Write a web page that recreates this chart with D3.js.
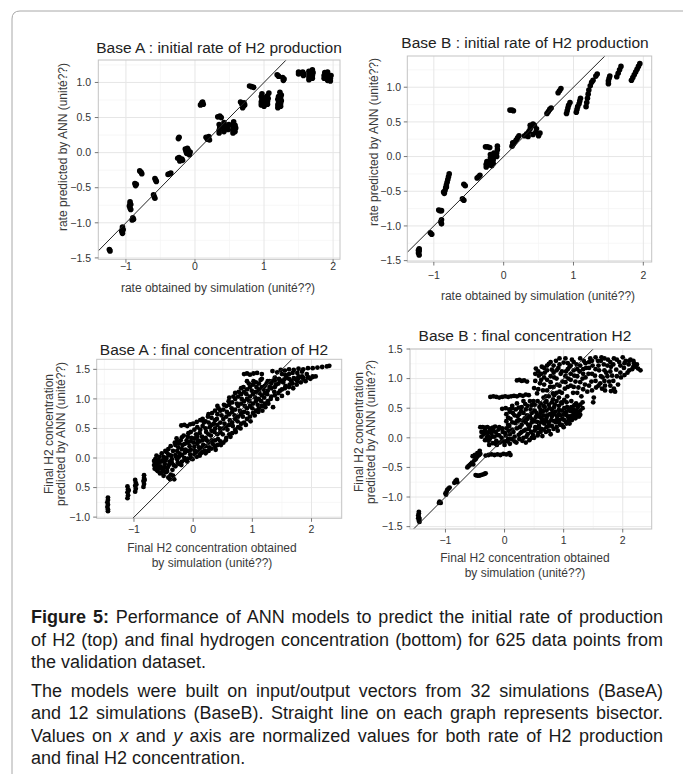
<!DOCTYPE html>
<html>
<head>
<meta charset="utf-8">
<script src="https://cdnjs.cloudflare.com/ajax/libs/d3/7.8.5/d3.min.js"></script>
<style>
  body { margin: 0; background: #fff; }
  svg { display: block; }
  text { font-family: "Liberation Sans", Arial, Helvetica, sans-serif; }
</style>
</head>
<body>
<svg id="fig" width="683" height="774"></svg>
<script>
/******************* Data *******************************/
var xTicks = [-1, 0, 1, 2];
var xTickLabels = ["\u22121", "0", "1", "2"];
var yTicksRate = [-1.5, -1, -0.5, 0, 0.5, 1];
var yTickLabelsRate = ["\u22121.5", "\u22121.0", "\u22120.5", "0.0", "0.5", "1.0"];
var yTicksConcA = [-1, -0.5, 0, 0.5, 1, 1.5];
var yTickLabelsConcA = ["\u22121.0", "0.5", "0.0", "0.5", "1.0", "1.5"];
var yTicksConcB = [-1.5, -1, -0.5, 0, 0.5, 1, 1.5];
var yTickLabelsConcB = ["\u22121.5", "\u22121.0", "\u22120.5", "0.0", "0.5", "1.0", "1.5"];

// Base A, initial rate : [simulation, ANN]
var rateA = [
  [-1.24,-1.38],[-1.23,-1.40],
  [-1.05,-1.06],[-1.05,-1.09],[-1.06,-1.12],[-1.05,-1.15],[-1.04,-1.10],
  [-0.90,-0.93],[-0.91,-0.96],[-0.89,-0.95],
  [-0.94,-0.70],[-0.94,-0.73],[-0.95,-0.76],[-0.94,-0.79],[-0.93,-0.81],[-0.93,-0.74],
  [-0.87,-0.44],[-0.85,-0.45],[-0.86,-0.47],
  [-0.80,-0.26],[-0.78,-0.28],[-0.77,-0.30],
  [-0.60,-0.60],[-0.59,-0.63],[-0.58,-0.65],
  [-0.58,-0.37],[-0.57,-0.39],[-0.56,-0.41],
  [-0.39,-0.31],[-0.37,-0.30],[-0.35,-0.29],
  [-0.24,0.20],[-0.23,0.22],
  [-0.25,-0.08],[-0.23,-0.07],[-0.21,-0.10],[-0.19,-0.09],[-0.18,-0.11],[-0.22,-0.12],
  [-0.14,0.05],[-0.13,0.02],[-0.12,-0.01],[-0.10,0.04],[-0.09,0.00],[-0.08,-0.03],[-0.11,0.06],[-0.07,0.01],
  [0.08,0.68],[0.10,0.71],[0.11,0.72],[0.12,0.69],
  [0.16,0.22],[0.18,0.19],[0.20,0.23],[0.21,0.18],[0.19,0.21],
  [0.33,0.51],[0.36,0.52],[0.38,0.50],
  [0.35,0.28],[0.35,0.32],[0.36,0.36],[0.35,0.40],[0.42,0.30],[0.42,0.34],[0.43,0.38],[0.42,0.43],
  [0.48,0.33],[0.48,0.37],[0.49,0.40],[0.55,0.28],[0.55,0.32],[0.56,0.36],[0.55,0.40],[0.56,0.44],
  [0.58,0.30],[0.59,0.35],[0.58,0.39],
  [0.66,0.72],[0.68,0.69],[0.70,0.66],[0.71,0.71],[0.69,0.64],[0.72,0.68],
  [0.79,0.95],[0.82,0.94],[0.85,0.93],
  [0.96,0.68],[0.96,0.72],[0.97,0.76],[0.96,0.80],[0.97,0.84],[1.00,0.66],[1.01,0.70],[1.00,0.74],
  [1.01,0.78],[1.05,0.69],[1.05,0.73],[1.06,0.77],[1.05,0.81],[1.07,0.85],
  [1.20,0.64],[1.20,0.68],[1.21,0.72],[1.20,0.76],[1.21,0.80],[1.24,0.66],[1.24,0.70],[1.25,0.74],
  [1.24,0.78],[1.25,0.82],[1.23,0.86],
  [1.19,1.11],[1.21,1.09],[1.27,1.07],[1.29,1.05],[1.28,1.03],
  [1.50,1.15],[1.50,1.12],[1.56,1.15],[1.58,1.12],[1.57,1.10],
  [1.65,1.04],[1.65,1.08],[1.66,1.12],[1.65,1.16],[1.70,1.06],[1.70,1.10],[1.71,1.14],[1.70,1.18],
  [1.87,1.06],[1.87,1.10],[1.88,1.14],[1.92,1.03],[1.92,1.07],[1.93,1.11],[1.92,1.15],
  [1.96,1.02],[1.96,1.06],[1.97,1.10]
];

// Base B, initial rate
var rateB = [
  [-1.21,-1.33],[-1.21,-1.36],[-1.22,-1.39],[-1.21,-1.42],[-1.22,-1.35],
  [-1.05,-1.10],[-1.03,-1.12],
  [-0.89,-0.91],[-0.90,-0.94],[-0.89,-0.97],
  [-0.93,-0.77],[-0.91,-0.78],[-0.89,-0.78],
  [-0.85,-0.53],[-0.84,-0.49],[-0.83,-0.45],[-0.82,-0.41],[-0.81,-0.37],[-0.80,-0.33],
  [-0.79,-0.29],[-0.78,-0.25],[-0.86,-0.51],[-0.82,-0.44],
  [-0.57,-0.40],[-0.55,-0.42],
  [-0.59,-0.61],[-0.57,-0.63],
  [-0.38,-0.31],[-0.36,-0.29],[-0.34,-0.27],
  [-0.26,0.14],[-0.23,0.14],[-0.20,0.13],
  [-0.25,-0.15],[-0.25,-0.11],[-0.24,-0.07],[-0.20,-0.12],[-0.20,-0.07],[-0.19,-0.02],[-0.19,0.03],
  [-0.15,-0.10],[-0.15,-0.05],[-0.14,0.00],[-0.14,0.05],[-0.10,0.00],[-0.10,0.05],[-0.09,0.10],
  [-0.09,0.15],[-0.17,-0.13],
  [0.09,0.67],[0.12,0.67],[0.14,0.66],
  [0.12,0.15],[0.14,0.18],[0.16,0.21],[0.18,0.24],[0.20,0.27],[0.22,0.30],[0.13,0.20],
  [0.30,0.30],[0.33,0.33],[0.36,0.36],[0.38,0.40],[0.40,0.44],[0.42,0.47],[0.44,0.45],[0.35,0.29],
  [0.42,0.32],[0.46,0.35],[0.50,0.30],[0.52,0.34],[0.47,0.40],[0.38,0.45],
  [0.62,0.62],[0.64,0.65],[0.66,0.68],[0.68,0.70],
  [0.78,0.92],[0.80,0.95],[0.82,0.98],
  [0.90,0.62],[0.91,0.66],[0.92,0.70],[0.93,0.74],[0.95,0.78],
  [1.04,0.64],[1.05,0.68],[1.06,0.72],[1.08,0.76],[1.09,0.80],[1.10,0.84],
  [1.18,0.72],[1.19,0.78],[1.20,0.84],[1.21,0.90],[1.22,0.96],[1.24,1.02],[1.26,1.07],[1.28,1.10],
  [1.32,1.16],[1.34,1.19],
  [1.50,1.05],[1.50,1.09],[1.51,1.13],[1.52,1.16],
  [1.62,1.15],[1.64,1.20],[1.66,1.25],[1.68,1.30],
  [1.83,1.10],[1.85,1.14],[1.87,1.18],[1.89,1.22],[1.91,1.26],[1.93,1.30],[1.95,1.34]
];

// Base A, final concentration
var concA = [
  [-1.44,-0.67],[-1.44,-0.71],[-1.45,-0.75],[-1.44,-0.79],[-1.45,-0.83],[-1.44,-0.87],[-1.44,-0.90],
  [-1.11,-0.48],[-1.10,-0.53],[-1.11,-0.58],[-1.10,-0.63],[-1.11,-0.68],[-1.09,-0.55],
  [-0.98,-0.37],[-0.97,-0.42],[-0.98,-0.47],[-0.97,-0.52],[-0.98,-0.57],[-0.96,-0.45],
  [-0.83,-0.29],[-0.83,-0.34],[-0.84,-0.39],[-0.83,-0.44],[-0.84,-0.49],[-0.82,-0.37],
  [-0.66,-0.05],[-0.66,-0.12],[-0.65,-0.18],[-0.64,-0.02],[-0.63,-0.10],[-0.62,0.04],[-0.61,-0.15],
  [-0.60,-0.22],[-0.58,-0.08],[-0.57,0.02],[-0.56,-0.26],[-0.55,-0.14],[-0.53,0.08],[-0.52,-0.04],
  [-0.51,-0.20],[-0.50,-0.30],[-0.48,-0.10],[-0.47,0.12],[-0.46,-0.24],[-0.45,0.00],[-0.43,-0.16],
  [-0.42,-0.33],[-0.40,-0.06],[-0.38,-0.28],[-0.37,0.04],[-0.35,-0.20],[-0.33,-0.12],[-0.32,-0.36],
  [-0.64,-0.07],[-0.62,-0.20],[-0.59,-0.03],[-0.57,-0.17],[-0.54,-0.06],[-0.53,-0.24],[-0.50,0.02],
  [-0.49,-0.16],[-0.47,-0.04],[-0.44,-0.22],[-0.42,0.06],[-0.41,-0.12],[-0.39,-0.36],[-0.36,-0.08],
  [-0.34,-0.30],
  [-0.20,0.55],[-0.15,0.56],[-0.10,0.54],[-0.05,0.57],[0.00,0.58],[0.06,0.61],[0.12,0.64],
  [0.86,1.42],[0.91,1.43],[0.96,1.41],[1.02,1.43],[1.08,1.44],[1.16,1.42],
  [1.34,1.47],[1.42,1.45],[1.48,1.49],[1.55,1.48],[1.62,1.50],[1.70,1.49],[1.78,1.51],[1.86,1.50],
  [1.94,1.52],[2.02,1.52],[2.10,1.53],[2.18,1.54],[2.26,1.55],[2.30,1.56],
  [1.29,1.30],[1.38,1.31],[1.46,1.32],[1.54,1.33],[1.62,1.34],[1.70,1.35],[1.78,1.35],[1.86,1.36],
  [1.94,1.37],[2.02,1.37],[2.07,1.38],
  [-0.45,0.10],[-0.42,0.15],[-0.40,0.05],[-0.38,0.20],[-0.36,-0.02],[-0.34,0.12],[-0.31,0.26],
  [-0.29,0.02],[-0.28,0.33],[-0.26,-0.08],[-0.25,0.18],[-0.23,0.08],[-0.21,0.30],[-0.20,-0.12],
  [-0.18,0.22],[-0.16,0.38],[-0.15,0.00],[-0.13,0.14],[-0.11,0.30],[-0.10,-0.06],[-0.08,0.42],
  [-0.06,0.20],[-0.05,0.06],[-0.03,0.34],[-0.01,-0.02],[0.01,0.26],[0.03,0.12],[0.05,0.40],
  [0.06,0.02],[0.08,0.30],[0.10,0.18],
  [0.12,0.48],[0.13,0.08],[0.15,0.36],[0.17,0.22],[0.18,0.60],[0.20,0.12],[0.22,0.44],[0.23,0.30],
  [0.25,0.70],[0.27,0.18],[0.28,0.52],[0.30,0.38],[0.32,0.76],[0.33,0.24],[0.35,0.58],[0.36,0.44],
  [0.38,0.14],[0.40,0.66],
  [0.42,0.32],[0.43,0.84],[0.45,0.50],[0.47,0.22],[0.48,0.72],[0.50,0.40],[0.52,0.90],[0.53,0.58],
  [0.55,0.30],[0.57,0.78],[0.58,0.48],[0.60,0.96],[0.62,0.64],[0.63,0.36],[0.65,0.84],[0.67,0.54],
  [0.68,1.04],[0.70,0.72],
  [0.72,0.44],[0.74,0.92],[0.75,0.62],[0.77,1.12],[0.79,0.80],[0.80,0.50],[0.82,1.00],[0.84,0.70],
  [0.85,1.20],[0.87,0.88],[0.89,0.56],[0.90,1.08],[0.92,0.76],[0.94,1.26],[0.95,0.96],[0.97,0.62],
  [0.99,1.14],[1.00,0.84],
  [1.02,1.30],[1.04,0.72],[1.05,1.02],[1.07,1.20],[1.09,0.90],[1.10,0.78],[1.12,1.10],[1.14,1.32],
  [1.15,0.96],[1.17,0.80],[1.19,1.16],[1.20,1.02],[1.22,0.86],[1.24,1.26],[1.25,1.08],[1.27,0.92],
  [1.29,1.20],
  [1.31,1.00],[1.33,1.30],[1.35,0.86],[1.37,1.12],[1.40,1.24],[1.42,1.00],[1.45,1.34],[1.47,1.14],
  [1.50,1.05],[1.52,1.28],[1.55,1.18],[1.58,1.36],[1.60,1.10],[1.63,1.24],[1.66,1.30],[1.69,1.18],
  [1.72,1.34],[1.75,1.24],[1.78,1.38],[1.82,1.28],[1.86,1.34],[1.90,1.30],[1.94,1.36],[1.98,1.34],
  [2.02,1.38],
  [-0.30,-0.14],[-0.30,0.05],[-0.30,0.22],[-0.27,0.12],[-0.27,-0.02],[-0.27,0.28],[-0.24,-0.10],
  [-0.24,0.25],[-0.24,0.02],[-0.19,0.05],[-0.19,-0.06],[-0.19,0.15],[-0.19,0.35],[-0.14,0.24],
  [-0.14,-0.03],[-0.14,0.09],[-0.09,0.12],[-0.09,0.26],[-0.09,0.36],[-0.09,-0.01],[-0.04,0.14],
  [-0.04,0.28],[-0.04,0.00],[-0.04,0.44],[0.02,0.06],[0.02,0.19],[0.02,0.33],[0.02,0.48],
  [0.07,0.10],[0.07,0.24],[0.07,0.36],[0.07,0.52],[0.11,0.04],[0.11,0.14],[0.11,0.28],[0.11,0.42],
  [0.16,0.10],[0.16,0.18],[0.16,0.30],[0.16,0.54],[0.16,0.66],[0.21,0.08],[0.21,0.20],[0.21,0.34],
  [0.21,0.50],[0.21,0.62],[0.26,0.12],[0.26,0.26],[0.26,0.40],[0.26,0.60],[0.26,0.74],
  [0.31,0.16],[0.31,0.30],[0.31,0.46],[0.31,0.56],[0.31,0.68],[0.37,0.20],[0.37,0.30],[0.37,0.50],
  [0.37,0.64],[0.37,0.80],[0.41,0.22],[0.41,0.40],[0.41,0.56],[0.41,0.74],[0.41,0.88],
  [0.46,0.28],[0.46,0.44],[0.46,0.60],[0.46,0.80],[0.51,0.26],[0.51,0.50],[0.51,0.66],[0.51,0.82],
  [0.56,0.34],[0.56,0.54],[0.56,0.70],[0.56,0.88],[0.61,0.40],[0.61,0.56],[0.61,0.74],[0.61,0.90],
  [0.61,1.02],[0.66,0.42],[0.66,0.60],[0.66,0.78],[0.66,0.94],[0.71,0.48],[0.71,0.66],[0.71,0.82],
  [0.71,1.00],[0.71,1.10],[0.76,0.52],[0.76,0.70],[0.76,0.88],[0.76,1.04],[0.81,0.58],[0.81,0.74],
  [0.81,0.92],[0.81,1.08],[0.81,1.18],[0.86,0.60],[0.86,0.78],[0.86,0.96],[0.86,1.12],
  [0.91,0.66],[0.91,0.84],[0.91,1.00],[0.91,1.16],[0.91,1.30],[0.96,0.70],[0.96,0.88],[0.96,1.04],
  [0.96,1.20],[1.01,0.76],[1.01,0.92],[1.01,1.08],[1.01,1.24],[1.06,0.80],[1.06,0.96],[1.06,1.12],
  [1.06,1.28],[1.11,0.84],[1.11,1.00],[1.11,1.16],[1.11,1.26],[1.16,0.88],[1.16,1.06],[1.16,1.20],
  [1.16,1.34],[1.21,0.92],[1.21,1.10],[1.21,1.22],[1.26,0.96],[1.26,1.14],[1.26,1.30],
  [1.32,1.04],[1.32,1.18],[1.32,1.26],[1.38,1.06],[1.38,1.20],[1.38,1.36],[1.44,1.10],[1.44,1.26],
  [1.50,1.16],[1.50,1.30],[1.50,1.42],[1.56,1.22],[1.56,1.40],[1.62,1.20],[1.62,1.42],
  [1.68,1.26],[1.68,1.44],[1.76,1.30],[1.76,1.44],[1.84,1.38],[1.84,1.46],[1.92,1.42]
];

// Base B, final concentration
var concB = [
  [-1.45,-1.25],[-1.45,-1.28],[-1.46,-1.31],[-1.45,-1.34],[-1.44,-1.37],[-1.45,-1.40],[-1.44,-1.42],[-1.46,-1.36],
  [-1.10,-1.08],[-1.08,-1.10],[-1.11,-1.10],
  [-1.00,-0.94],[-0.98,-0.91],[-0.97,-0.88],[-0.95,-0.86],[-0.93,-0.84],[-0.99,-0.96],
  [-0.83,-0.73],[-0.85,-0.76],[-0.80,-0.75],[-0.81,-0.71],
  [-0.63,-0.50],[-0.61,-0.48],[-0.59,-0.46],[-0.57,-0.44],[-0.55,-0.42],[-0.53,-0.45],[-0.51,-0.38],
  [-0.49,-0.36],[-0.47,-0.33],[-0.45,-0.30],[-0.43,-0.29],[-0.41,-0.27],[-0.50,-0.29],[-0.54,-0.31],
  [-0.46,-0.26],[-0.42,-0.22],
  [-0.49,-0.63],[-0.46,-0.64],[-0.43,-0.64],[-0.40,-0.63],[-0.37,-0.62],[-0.34,-0.61],[-0.32,-0.60],
  [-0.32,-0.30],[-0.27,-0.29],[-0.22,-0.28],[-0.17,-0.29],[-0.12,-0.28],[-0.07,-0.29],[-0.02,-0.27],
  [0.03,-0.28],[0.08,-0.26],[0.10,-0.29],
  [-0.41,0.18],[-0.37,0.18],[-0.33,0.17],[-0.29,0.18],[-0.25,0.16],[-0.20,0.17],[-0.16,0.19],
  [-0.35,0.06],[-0.31,0.09],[-0.28,0.03],[-0.25,-0.02],[-0.22,0.08],[-0.19,0.12],[-0.17,0.02],
  [-0.14,-0.05],[-0.12,0.05],[-0.10,0.14],[-0.08,-0.08],[-0.05,0.00],[-0.03,0.10],[0.00,-0.12],
  [0.02,0.04],[0.05,-0.06],[0.07,0.12],[-0.27,-0.05],[-0.20,-0.09],[-0.13,-0.12],[-0.30,0.00],
  [-0.39,0.10],[-0.39,0.02],[-0.33,0.12],[-0.33,-0.04],[-0.26,0.10],[-0.26,-0.12],[-0.21,0.02],
  [-0.21,0.14],[-0.15,0.10],[-0.15,-0.10],[-0.09,0.04],[-0.09,0.18],[-0.04,-0.06],[-0.04,0.16],
  [0.01,0.08],[0.01,-0.06],
  [-0.24,0.69],[-0.19,0.70],[-0.14,0.69],[-0.09,0.68],[-0.04,0.69],[0.01,0.70],[0.06,0.69],
  [0.11,0.70],[0.16,0.71],[0.21,0.70],[0.26,0.72],[0.31,0.71],[0.36,0.73],[0.41,0.72],
  [0.21,0.97],[0.25,0.98],[0.29,0.96],[0.33,0.97],[0.38,0.95],
  [-0.04,0.49],[0.02,0.50],[0.08,0.48],[0.13,0.50],[0.19,0.48],[0.24,0.51],
  [0.08,0.20],[0.10,0.32],[0.12,-0.02],[0.14,0.42],[0.15,0.10],[0.18,0.25],[0.20,-0.08],[0.22,0.36],
  [0.24,0.05],[0.26,0.18],[0.28,0.45],[0.30,-0.05],[0.31,0.29],[0.33,0.12],[0.35,0.57],[0.37,0.02],
  [0.38,0.38],[0.40,0.22],[0.42,-0.04],[0.44,0.48],[0.45,0.10],[0.47,0.31],[0.49,0.62],[0.50,0.00],
  [0.52,0.18],[0.54,0.42],[0.55,0.27],[0.57,0.08],[0.59,0.52],[0.60,0.35],[0.62,0.15],[0.64,0.03],
  [0.65,0.45],[0.67,0.24],[0.69,0.60],[0.70,0.10],[0.72,0.38],[0.74,0.20],[0.76,0.50],[0.78,0.06],
  [0.79,0.30],[0.81,0.42],[0.83,0.15],[0.85,0.56],[0.87,0.26],[0.89,0.36],[0.90,0.12],[0.92,0.47],
  [0.94,0.22],[0.96,0.60],[0.98,0.32],[1.00,0.18],[1.02,0.42],[1.04,0.27],[1.06,0.52],[1.08,0.34],
  [1.10,0.24],[1.12,0.45],[1.14,0.30],[1.16,0.38],[1.18,0.55],[1.20,0.33],[1.22,0.40],[1.25,0.37],
  [1.28,0.39],[0.34,0.33],[0.41,0.15],[0.53,0.35],[0.58,0.20],[0.66,0.38],[0.71,0.28],[0.77,0.40],
  [0.86,0.44],[0.93,0.30],[0.46,0.55],[0.61,0.47],[0.68,0.52],[0.82,0.65],[0.27,0.08],[0.36,-0.08],
  [0.48,0.05],[0.63,0.32],
  [0.03,0.28],[0.03,0.40],[0.03,0.16],[0.06,0.34],[0.06,-0.02],[0.06,0.22],[0.09,0.06],[0.09,0.44],
  [0.09,-0.10],[0.13,0.26],[0.13,0.14],[0.13,0.54],[0.17,0.02],[0.17,0.38],[0.17,-0.06],[0.21,0.16],
  [0.21,0.28],[0.21,0.58],[0.25,0.30],[0.25,0.40],[0.25,-0.02],[0.29,0.22],[0.29,0.10],[0.29,0.52],
  [0.32,0.42],[0.32,0.00],[0.32,0.62],[0.36,0.14],[0.36,0.26],[0.36,0.48],[0.39,0.06],[0.39,0.32],
  [0.39,0.54],[0.43,0.20],[0.43,0.36],[0.43,0.62],[0.46,0.00],[0.46,0.42],[0.46,0.26],[0.51,0.12],
  [0.51,0.46],[0.51,0.56],[0.51,0.28],[0.56,0.04],[0.56,0.16],[0.56,0.38],[0.56,0.62],[0.61,0.10],
  [0.61,0.26],[0.61,0.42],[0.61,0.58],[0.66,0.14],[0.66,0.30],[0.66,0.54],[0.66,0.68],[0.71,0.18],
  [0.71,0.34],[0.71,0.46],[0.71,0.62],[0.75,0.12],[0.75,0.26],[0.75,0.56],[0.75,0.70],[0.80,0.20],
  [0.80,0.36],[0.80,0.48],[0.80,0.60],[0.84,0.28],[0.84,0.40],[0.84,0.52],[0.84,0.72],[0.88,0.18],
  [0.88,0.30],[0.88,0.62],[0.92,0.26],[0.92,0.40],[0.92,0.54],[0.92,0.68],[0.97,0.22],[0.97,0.46],
  [0.97,0.58],[1.01,0.30],[1.01,0.50],[1.01,0.64],[1.05,0.24],[1.05,0.44],[1.05,0.60],[1.09,0.30],
  [1.09,0.48],[1.13,0.36],[1.13,0.52],[1.13,0.62],[1.17,0.42],[1.17,0.48],[1.21,0.46],[1.21,0.58],
  [1.24,0.42],[1.24,0.52],[1.28,0.46],[1.28,0.56],[1.32,0.50],[1.32,0.60],
  [0.95,0.38],[1.00,0.39],[1.05,0.38],[1.10,0.36],[1.15,0.37],[1.20,0.38],[1.26,0.36],
  [0.50,0.84],[0.53,1.17],[0.55,0.75],[0.58,1.05],[0.60,0.92],[0.63,1.20],[0.65,0.80],[0.68,1.10],
  [0.70,0.70],[0.72,0.98],[0.75,1.25],[0.77,0.86],[0.80,1.15],[0.82,0.75],[0.84,1.02],[0.87,1.30],
  [0.89,0.90],[0.91,1.18],[0.93,0.78],[0.95,1.08],[0.98,0.95],[1.00,1.27],[1.02,0.83],[1.04,1.12],
  [1.06,0.70],[1.08,1.00],[1.10,1.20],[1.12,0.88],[1.14,1.32],[1.16,0.76],[1.18,1.05],[1.20,0.95],
  [1.22,1.24],[1.25,0.85],[1.27,1.12],[1.30,0.70],[1.32,1.00],[1.34,1.30],[1.36,0.90],[1.38,1.18],
  [1.40,0.78],[1.42,1.08],[1.45,1.34],[1.47,0.95],[1.49,1.22],[1.51,0.68],[1.53,1.05],[1.55,0.85],
  [1.58,1.30],[1.60,1.14],[1.62,0.92],[1.64,1.36],[1.66,1.02],[1.68,1.24],[1.70,0.80],[1.72,1.10],
  [1.75,1.32],[1.77,0.95],[1.80,1.20],[1.82,1.05],[1.85,1.34],[1.87,0.78],[1.89,1.15],[1.92,0.90],
  [1.94,1.28],[1.97,1.02],[2.00,1.36],[2.02,1.18],[2.05,1.30],[2.08,1.10],[2.10,1.24],[2.13,1.32],
  [2.16,1.16],[2.19,1.26],[2.22,1.20],[2.26,1.17],[2.30,1.14],[1.80,0.79],[1.85,0.83],[1.65,0.83],
  [1.70,0.88],[1.50,0.60],
  [0.52,0.96],[0.52,1.08],[0.57,0.82],[0.57,1.12],[0.62,0.98],[0.62,1.08],[0.67,0.90],[0.67,1.18],
  [0.67,1.02],[0.72,0.80],[0.72,1.14],[0.72,1.22],[0.78,0.94],[0.78,1.04],[0.78,1.28],[0.83,0.86],
  [0.83,1.10],[0.83,1.22],[0.88,0.76],[0.88,1.00],[0.88,1.14],[0.93,0.88],[0.93,1.24],[0.93,1.34],
  [0.97,0.76],[0.97,1.12],[1.03,0.94],[1.03,1.04],[1.03,1.34],[1.07,0.86],[1.07,1.16],[1.07,1.26],
  [1.12,0.98],[1.12,1.08],[1.12,1.22],[1.17,0.86],[1.17,1.14],[1.17,1.28],[1.23,0.76],[1.23,1.04],
  [1.23,1.16],[1.28,0.94],[1.28,1.22],[1.28,1.34],[1.33,0.82],[1.33,1.08],[1.33,1.16],[1.37,1.02],
  [1.37,1.26],[1.43,0.88],[1.43,1.18],[1.43,1.28],[1.48,0.80],[1.48,1.08],[1.48,1.30],[1.54,0.96],
  [1.54,1.16],[1.54,1.36],[1.59,0.88],[1.59,1.22],[1.63,1.04],[1.63,1.30],[1.69,0.96],[1.69,1.14],
  [1.69,1.34],[1.74,1.04],[1.74,1.22],[1.79,0.88],[1.79,1.12],[1.79,1.28],[1.84,0.96],[1.84,1.24],
  [1.90,1.04],[1.90,1.32],[1.96,1.10],[1.96,1.22],[2.03,1.26],[2.03,1.06],[2.11,1.14],[2.11,1.30],
  [2.18,1.20],[2.18,1.30],[2.24,1.24]
];

var captionLines = [
  [{ t: "Figure 5:", b: true }, { t: " Performance of ANN models to predict the initial rate of production" }],
  [{ t: "of H2 (top) and final hydrogen concentration (bottom) for 625 data points from" }],
  [{ t: "the validation dataset." }],
  [{ t: "The models were built on input/output vectors from 32 simulations (BaseA)" }],
  [{ t: "and 12 simulations (BaseB). Straight line on each graph represents bisector." }],
  [{ t: "Values on " }, { t: "x", i: true }, { t: " and " }, { t: "y", i: true }, { t: " axis are normalized values for both rate of H2 production" }],
  [{ t: "and final H2 concentration." }]
];

/******************* Layout *****************************/
var panels = [
  { data: rateA, title: "Base A : initial rate of H2 production", titleX: 219, titleY: 53,
    box: [98.3, 60, 340, 259.3], xDomain: [-1.40, 2.10], yDomain: [-1.52, 1.32],
    yTicks: yTicksRate, yLabels: yTickLabelsRate, xLabelY: 270, yLabelX: 91,
    xTitle: ["rate obtained by simulation (unité??)"], xTitleX: 218, xTitleY: [292],
    yTitle: ["rate predicted by ANN (unité??)"], yTitleX: [66.5], yTitleY: 147, r: 2.8 },
  { data: rateB, title: "Base B : initial rate of H2 production", titleX: 525, titleY: 48,
    box: [407.3, 56, 651.7, 262], xDomain: [-1.38, 2.12], yDomain: [-1.52, 1.45],
    yTicks: yTicksRate, yLabels: yTickLabelsRate, xLabelY: 279, yLabelX: 401,
    xTitle: ["rate obtained by simulation (unité??)"], xTitleX: 538, xTitleY: [299.5],
    yTitle: ["rate predicted by ANN (unité??)"], yTitleX: [377.5], yTitleY: 142, r: 2.8 },
  { data: concA, title: "Base A : final concentration of H2", titleX: 214, titleY: 355,
    box: [96.7, 359.3, 341.7, 518.3], xDomain: [-1.63, 2.51], yDomain: [-1.02, 1.67],
    yTicks: yTicksConcA, yLabels: yTickLabelsConcA, xLabelY: 533, yLabelX: 90,
    xTitle: ["Final H2 concentration obtained", "by simulation (unité??)"], xTitleX: 212, xTitleY: [552, 567],
    yTitle: ["Final H2 concentration", "predicted by ANN (unité??)"], yTitleX: [52.5, 65], yTitleY: 434, r: 2.4 },
  { data: concB, title: "Base B : final concentration H2", titleX: 525, titleY: 341,
    box: [410, 349, 651.7, 529], xDomain: [-1.60, 2.49], yDomain: [-1.54, 1.50],
    yTicks: yTicksConcB, yLabels: yTickLabelsConcB, xLabelY: 543.5, yLabelX: 402.5,
    xTitle: ["Final H2 concentration obtained", "by simulation (unité??)"], xTitleX: 525, xTitleY: [562, 577],
    yTitle: ["Final H2 concentration", "predicted by ANN (unité??)"], yTitleX: [362.5, 375], yTitleY: 432, r: 2.4 }
];

var svg = d3.select('#fig');

// page frame
svg.append('path')
  .attr('d', 'M12,774 L12,19 Q12,11 20,11 L683,11')
  .attr('fill', 'none')
  .attr('stroke', '#a8a8a8')
  .attr('stroke-width', 1);

panels.forEach(function(p, idx) {
  var x = d3.scaleLinear().domain(p.xDomain).range([p.box[0], p.box[2]]);
  var y = d3.scaleLinear().domain(p.yDomain).range([p.box[3], p.box[1]]);
  var g = svg.append('g').attr('class', 'panel');
  var clipId = 'clip' + idx;

  svg.append('clipPath').attr('id', clipId)
    .append('rect')
    .attr('x', p.box[0]).attr('y', p.box[1])
    .attr('width', p.box[2] - p.box[0]).attr('height', p.box[3] - p.box[1]);

  // minor grid
  var xMinor = xTicks.map(function(t) { return t - 0.5; }).concat([xTicks[xTicks.length - 1] + 0.5])
    .filter(function(t) { return t > p.xDomain[0] && t < p.xDomain[1]; });
  var yMinor = p.yTicks.map(function(t) { return t - 0.25; }).concat([p.yTicks[p.yTicks.length - 1] + 0.25])
    .filter(function(t) { return t > p.yDomain[0] && t < p.yDomain[1]; });

  g.selectAll('.xminor').data(xMinor).enter().append('line')
    .attr('x1', x).attr('x2', x).attr('y1', p.box[1]).attr('y2', p.box[3])
    .attr('stroke', '#f3f3f3').attr('stroke-width', 0.7);
  g.selectAll('.yminor').data(yMinor).enter().append('line')
    .attr('y1', y).attr('y2', y).attr('x1', p.box[0]).attr('x2', p.box[2])
    .attr('stroke', '#f3f3f3').attr('stroke-width', 0.7);

  // major grid
  g.selectAll('.xmajor').data(xTicks).enter().append('line')
    .attr('x1', x).attr('x2', x).attr('y1', p.box[1]).attr('y2', p.box[3])
    .attr('stroke', '#e6e6e6').attr('stroke-width', 1);
  g.selectAll('.ymajor').data(p.yTicks).enter().append('line')
    .attr('y1', y).attr('y2', y).attr('x1', p.box[0]).attr('x2', p.box[2])
    .attr('stroke', '#e6e6e6').attr('stroke-width', 1);

  // points
  g.append('g').attr('clip-path', 'url(#' + clipId + ')')
    .selectAll('circle').data(p.data).enter().append('circle')
    .attr('cx', function(d) { return x(d[0]); })
    .attr('cy', function(d) { return y(d[1]); })
    .attr('r', p.r)
    .attr('fill', '#000');

  // bisector
  var lo = Math.max(p.xDomain[0], p.yDomain[0]);
  var hi = Math.min(p.xDomain[1], p.yDomain[1]);
  g.append('line')
    .attr('x1', x(lo)).attr('y1', y(lo)).attr('x2', x(hi)).attr('y2', y(hi))
    .attr('stroke', '#222').attr('stroke-width', 1);

  // border
  g.append('rect')
    .attr('x', p.box[0]).attr('y', p.box[1])
    .attr('width', p.box[2] - p.box[0]).attr('height', p.box[3] - p.box[1])
    .attr('fill', 'none').attr('stroke', '#c4c4c4').attr('stroke-width', 1);

  // ticks
  g.selectAll('.xtick').data(xTicks).enter().append('line')
    .attr('x1', x).attr('x2', x).attr('y1', p.box[3]).attr('y2', p.box[3] + 3.5)
    .attr('stroke', '#555').attr('stroke-width', 0.8);
  g.selectAll('.ytick').data(p.yTicks).enter().append('line')
    .attr('y1', y).attr('y2', y).attr('x1', p.box[0] - 3.5).attr('x2', p.box[0])
    .attr('stroke', '#555').attr('stroke-width', 0.8);

  g.selectAll('.xlab').data(xTicks).enter().append('text')
    .attr('x', x).attr('y', p.xLabelY)
    .attr('text-anchor', 'middle')
    .attr('font-size', 10.5).attr('fill', '#333')
    .text(function(d, i) { return xTickLabels[i]; });
  g.selectAll('.ylab').data(p.yTicks).enter().append('text')
    .attr('x', p.yLabelX).attr('y', function(d) { return y(d) + 3.7; })
    .attr('text-anchor', 'end')
    .attr('font-size', 10.5).attr('fill', '#333')
    .text(function(d, i) { return p.yLabels[i]; });

  // titles
  g.append('text')
    .attr('x', p.titleX).attr('y', p.titleY)
    .attr('text-anchor', 'middle')
    .attr('font-size', 15.5).attr('fill', '#222')
    .text(p.title);

  p.xTitle.forEach(function(s, i) {
    g.append('text')
      .attr('x', p.xTitleX).attr('y', p.xTitleY[i])
      .attr('text-anchor', 'middle')
      .attr('font-size', 12).attr('fill', '#3a3a3a')
      .text(s);
  });
  p.yTitle.forEach(function(s, i) {
    g.append('text')
      .attr('transform', 'translate(' + p.yTitleX[i] + ',' + p.yTitleY + ') rotate(-90)')
      .attr('text-anchor', 'middle')
      .attr('font-size', 12).attr('fill', '#3a3a3a')
      .text(s);
  });
});

/******************* Caption ****************************/
var capLeft = 31, capWidth = 632;
var capY = [623, 645.5, 668, 697, 719.3, 741.6, 764];
var justified = [true, true, false, true, true, true, false];

captionLines.forEach(function(parts, i) {
  var t = svg.append('text')
    .attr('x', capLeft).attr('y', capY[i])
    .attr('font-size', 18).attr('fill', '#1a1a1a');
  var full = '';
  parts.forEach(function(pt) {
    full += pt.t;
    t.append('tspan')
      .attr('font-weight', pt.b ? 'bold' : null)
      .attr('font-style', pt.i ? 'italic' : null)
      .text(pt.t);
  });
  if (justified[i]) {
    var w = t.node().getComputedTextLength();
    var spaces = (full.match(/ /g) || []).length;
    if (spaces > 0) t.attr('word-spacing', (capWidth - w) / spaces);
  }
});
</script>
</body>
</html>
